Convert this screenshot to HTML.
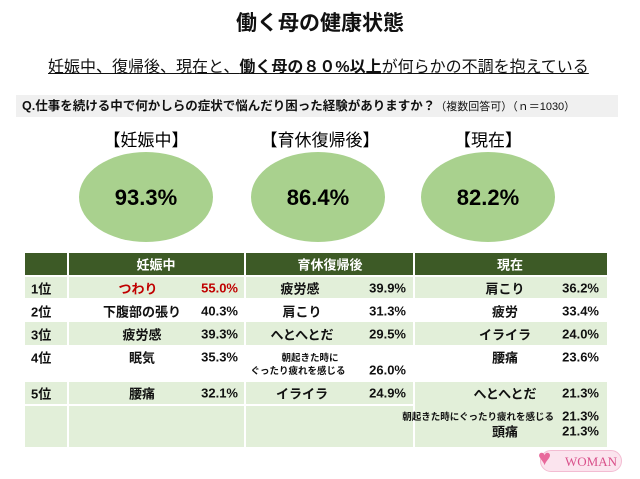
<!DOCTYPE html>
<html><head><meta charset="utf-8"><style>
body{margin:0;width:640px;height:479px;background:#fff;position:relative;overflow:hidden;font-family:"Liberation Sans","Noto Sans CJK JP",sans-serif;color:#111}
.a{position:absolute;white-space:nowrap}
.b{font-weight:bold}
.t{position:absolute;font-weight:bold;font-size:13px;white-space:nowrap;transform:translateY(-50%)}
.n{transform:translate(-50%,-50%)}
.v{transform:translate(-100%,-50%)}
.row{position:absolute;left:25px;width:582px}
.g{background:#e2efd9}
.sep{position:absolute;top:253px;width:2px;height:194px;background:#fff}
</style></head><body>
<div class="a b" style="left:0;width:640px;text-align:center;top:7px;font-size:21px">働く母の健康状態</div>
<div class="a" style="left:48px;top:53px;font-size:16px;text-decoration:underline">妊娠中、復帰後、現在と、<b>働く母の８０%以上</b>が何らかの不調を抱えている</div>
<div class="a" style="left:16px;top:95px;width:596px;height:22px;background:#f0f0f0;line-height:22px;padding-left:6px"><b style="font-size:12.5px">Q.仕事を続ける中で何かしらの症状で悩んだり困った経験がありますか？</b><span style="font-size:11px">（複数回答可）（ｎ＝1030）</span></div>
<svg class="a" style="left:0;top:0" width="640" height="250">
<g font-family="Liberation Sans,Noto Sans CJK JP,sans-serif" text-anchor="middle">
<text x="146" y="146" font-size="17">【妊娠中】</text>
<text x="320" y="146" font-size="17">【育休復帰後】</text>
<text x="488" y="146" font-size="17">【現在】</text>
<ellipse cx="146" cy="197" rx="67" ry="45" fill="#a9d18e"/>
<ellipse cx="318" cy="197" rx="67" ry="45" fill="#a9d18e"/>
<ellipse cx="488" cy="197" rx="67" ry="45" fill="#a9d18e"/>
<text x="146" y="205" font-size="22" font-weight="bold">93.3%</text>
<text x="318" y="205" font-size="22" font-weight="bold">86.4%</text>
<text x="488" y="205" font-size="22" font-weight="bold">82.2%</text>
</g></svg>
<div>
<div class="row" style="top:253px;height:22px;background:#3d5a26"></div>
<div class="row g" style="top:277px;height:21px"></div>
<div class="row g" style="top:322px;height:23px"></div>
<div class="row g" style="top:382px;height:65px"></div>
<div class="row" style="top:404px;height:0;border-top:2px solid #fff;width:390px"></div>
<div class="sep" style="left:67px"></div><div class="sep" style="left:244px"></div><div class="sep" style="left:413px"></div>
<div class="t n" style="left:156px;top:264px;color:#fff">妊娠中</div>
<div class="t n" style="left:330px;top:264px;color:#fff">育休復帰後</div>
<div class="t n" style="left:510px;top:264px;color:#fff">現在</div>
<div class="t" style="left:31px;top:288px">1位</div>
<div class="t" style="left:31px;top:311px">2位</div>
<div class="t" style="left:31px;top:334px">3位</div>
<div class="t" style="left:31px;top:357px">4位</div>
<div class="t" style="left:31px;top:393px">5位</div>
<div class="t n" style="left:138px;top:288px;color:#c00000">つわり</div><div class="t v" style="left:238px;top:288px;color:#c00000">55.0%</div>
<div class="t n" style="left:142px;top:311px">下腹部の張り</div><div class="t v" style="left:238px;top:311px">40.3%</div>
<div class="t n" style="left:142px;top:334px">疲労感</div><div class="t v" style="left:238px;top:334px">39.3%</div>
<div class="t n" style="left:142px;top:357px">眠気</div><div class="t v" style="left:238px;top:357px">35.3%</div>
<div class="t n" style="left:142px;top:393px">腰痛</div><div class="t v" style="left:238px;top:393px">32.1%</div>
<div class="t n" style="left:300px;top:288px">疲労感</div><div class="t v" style="left:406px;top:288px">39.9%</div>
<div class="t n" style="left:302px;top:311px">肩こり</div><div class="t v" style="left:406px;top:311px">31.3%</div>
<div class="t n" style="left:302px;top:334px">へとへとだ</div><div class="t v" style="left:406px;top:334px">29.5%</div>
<div class="t n" style="left:310px;top:357px;font-size:9.5px">朝起きた時に</div>
<div class="t n" style="left:298px;top:370px;font-size:9.5px">ぐったり疲れを感じる</div><div class="t v" style="left:406px;top:370px">26.0%</div>
<div class="t n" style="left:302px;top:393px">イライラ</div><div class="t v" style="left:406px;top:393px">24.9%</div>
<div class="t n" style="left:505px;top:288px">肩こり</div><div class="t v" style="left:599px;top:288px">36.2%</div>
<div class="t n" style="left:505px;top:311px">疲労</div><div class="t v" style="left:599px;top:311px">33.4%</div>
<div class="t n" style="left:505px;top:334px">イライラ</div><div class="t v" style="left:599px;top:334px">24.0%</div>
<div class="t n" style="left:505px;top:357px">腰痛</div><div class="t v" style="left:599px;top:357px">23.6%</div>
<div class="t n" style="left:505px;top:393px">へとへとだ</div><div class="t v" style="left:599px;top:393px">21.3%</div>
<div class="t v" style="left:554px;top:416px;font-size:9.5px">朝起きた時にぐったり疲れを感じる</div><div class="t v" style="left:599px;top:416px">21.3%</div>
<div class="t n" style="left:505px;top:431px">頭痛</div><div class="t v" style="left:599px;top:431px">21.3%</div>
</div>
<div class="a" style="left:540px;top:450px;width:82px;height:22px;border-radius:11px;background:#fbe4ee;border:1px solid #f3bcd2;color:#d9508a;font-family:'Liberation Serif',serif;font-size:13px;line-height:22px;text-align:right;padding-right:4px;box-sizing:border-box">WOMAN</div>
<div class="a" style="left:538px;top:445px;color:#e86a9c;font-size:22px">♥</div>
</body></html>
